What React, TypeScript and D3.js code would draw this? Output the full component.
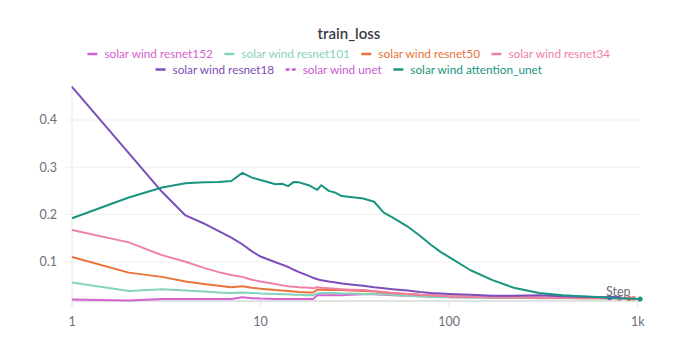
import React from "react";
import * as d3 from "d3";

const steps = [1, 2, 3, 4, 5, 6, 7, 8, 9, 10, 12, 13, 14, 15, 16, 18, 19, 20, 21, 23, 25, 27, 30, 35, 40, 45, 50, 60, 70, 80, 90, 100, 130, 170, 220, 300, 400, 500, 650, 800, 1030];

const seriesNames = [
  "solar wind resnet152",
  "solar wind resnet101",
  "solar wind resnet50",
  "solar wind resnet34",
  "solar wind resnet18",
  "solar wind unet",
  "solar wind attention_unet",
];
const seriesColors = ["#d563cf", "#86d3bc", "#e9733b", "#ef80a7", "#7c4eba", "#c95ad0", "#1a9480"];
const seriesDashed = [false, false, false, false, false, true, false];
const lastSteps = [800, 900, 900, 950, 710, 0, 1030];

const resnet152 = [0.020, 0.018, 0.021, 0.021, 0.021, 0.021, 0.021, 0.025, 0.023, 0.022, 0.021, 0.021, 0.021, 0.021, 0.021, 0.021, 0.021, 0.029, 0.029, 0.029, 0.029, 0.029, 0.030, 0.031, 0.031, 0.030, 0.029, 0.028, 0.027, 0.026, 0.026, 0.025, 0.025, 0.024, 0.024, 0.024, 0.024, 0.024, 0.024, 0.024, 0.023];
const resnet101 = [0.056, 0.038, 0.042, 0.039, 0.037, 0.035, 0.034, 0.035, 0.034, 0.033, 0.032, 0.031, 0.031, 0.030, 0.030, 0.029, 0.029, 0.033, 0.034, 0.034, 0.034, 0.033, 0.033, 0.032, 0.032, 0.031, 0.030, 0.028, 0.027, 0.026, 0.025, 0.025, 0.024, 0.024, 0.024, 0.023, 0.023, 0.023, 0.022, 0.022, 0.022];
const resnet50 = [0.110, 0.077, 0.068, 0.058, 0.053, 0.049, 0.046, 0.048, 0.045, 0.043, 0.040, 0.039, 0.038, 0.037, 0.036, 0.035, 0.035, 0.041, 0.041, 0.040, 0.040, 0.040, 0.039, 0.038, 0.037, 0.035, 0.034, 0.032, 0.030, 0.029, 0.028, 0.027, 0.026, 0.025, 0.025, 0.024, 0.024, 0.023, 0.023, 0.023, 0.022];
const resnet34 = [0.167, 0.141, 0.114, 0.100, 0.087, 0.078, 0.072, 0.068, 0.062, 0.058, 0.053, 0.050, 0.048, 0.047, 0.046, 0.045, 0.044, 0.046, 0.045, 0.044, 0.043, 0.042, 0.041, 0.040, 0.038, 0.036, 0.034, 0.032, 0.030, 0.029, 0.028, 0.027, 0.026, 0.025, 0.025, 0.024, 0.024, 0.024, 0.024, 0.024, 0.023];
const resnet18 = [0.470, 0.330, 0.248, 0.198, 0.181, 0.165, 0.151, 0.137, 0.122, 0.111, 0.099, 0.094, 0.089, 0.083, 0.078, 0.070, 0.066, 0.063, 0.061, 0.058, 0.056, 0.054, 0.052, 0.049, 0.046, 0.044, 0.042, 0.039, 0.036, 0.034, 0.033, 0.032, 0.030, 0.028, 0.028, 0.029, 0.027, 0.026, 0.025, 0.026, 0.024];
const unet: number[] = [];
const attentionUnet = [0.192, 0.236, 0.257, 0.266, 0.268, 0.269, 0.271, 0.288, 0.278, 0.273, 0.264, 0.265, 0.260, 0.269, 0.268, 0.262, 0.257, 0.252, 0.262, 0.250, 0.246, 0.239, 0.237, 0.234, 0.227, 0.204, 0.194, 0.175, 0.155, 0.136, 0.121, 0.110, 0.082, 0.061, 0.045, 0.034, 0.029, 0.027, 0.025, 0.023, 0.021];

const seriesValues = [resnet152, resnet101, resnet50, resnet34, resnet18, unet, attentionUnet];

const yTicks = [0.1, 0.2, 0.3, 0.4];
const xTicks = [1, 10, 100, 1000];
const xTickLabels = ["1", "10", "100", "1k"];

const W = 698;
const H = 356;
const FONT = "Lato, 'Open Sans', sans-serif";

function measure(text: string, size: number): number {
  const c = document.createElement("canvas").getContext("2d");
  if (!c) return text.length * size * 0.5;
  c.font = `${size}px Lato`;
  return c.measureText(text).width;
}

export default function App() {
  const left = 72;
  const right = 637.7;
  const plotRight = 640;
  const x = d3.scaleLog().domain([1, 1000]).range([left, right]);
  const y = d3.scaleLinear().domain([0, 0.4]).range([309, 120]);
  const axisY = 301;
  const plotTop = 84;

  const line = d3
    .line<[number, number]>()
    .x((d) => x(d[0]))
    .y((d) => y(d[1]));

  const legendSize = 11.8;
  const markerW = 10;
  const markerGap = 7;
  const itemGap = 11;
  const rows = [[0, 1, 2, 3], [4, 5, 6]];
  const rowYs = [54, 69.5];

  const legendItems: React.ReactNode[] = [];
  rows.forEach((row, ri) => {
    const widths = row.map((i) => markerW + markerGap + measure(seriesNames[i], legendSize));
    const total = d3.sum(widths) + itemGap * (row.length - 1);
    let cx = W / 2 - total / 2;
    row.forEach((i, k) => {
      const yy = rowYs[ri];
      legendItems.push(
        <g key={`lg${i}`}>
          <line
            x1={cx}
            x2={cx + markerW}
            y1={yy}
            y2={yy}
            stroke={seriesColors[i]}
            strokeWidth={2.5}
            strokeDasharray={seriesDashed[i] ? "4,2" : undefined}
          />
          <text
            x={cx + markerW + markerGap}
            y={yy}
            dy="0.35em"
            fill={seriesColors[i]}
            fontSize={legendSize}
            fontFamily={FONT}
          >
            {seriesNames[i]}
          </text>
        </g>
      );
      cx += widths[k] + itemGap;
    });
  });

  return (
    <svg
      width={W}
      height={H}
      style={{ position: "absolute", left: 0, top: 0, background: "#fff" }}
      fontFamily={FONT}
    >
      <text x={349} y={39} textAnchor="middle" fontSize={15} fontWeight={600} fill="#3a3a42">
        train_loss
      </text>
      {legendItems}

      {yTicks.map((t) => (
        <g key={`yt${t}`}>
          <line x1={left - 6} x2={plotRight} y1={y(t)} y2={y(t)} stroke="#efefef" strokeWidth={1} />
          <text x={57} y={y(t)} dy="0.35em" textAnchor="end" fontSize={12.5} fill="#6e6e78">
            {t.toFixed(1)}
          </text>
        </g>
      ))}
      <line x1={left} x2={left} y1={plotTop} y2={axisY + 5} stroke="#e6e6e6" strokeWidth={1} />
      <line x1={left} x2={plotRight} y1={axisY} y2={axisY} stroke="#e2e2e2" strokeWidth={2} />
      {xTicks.map((t, i) => (
        <g key={`xt${t}`}>
          <line x1={x(t)} x2={x(t)} y1={axisY} y2={axisY + 6} stroke="#e2e2e2" strokeWidth={1} />
          <text x={x(t)} y={326} textAnchor="middle" fontSize={12.5} fill="#6e6e78">
            {xTickLabels[i]}
          </text>
        </g>
      ))}

      {seriesValues.map((vals, si) => {
        if (!vals.length) return null;
        const pts: [number, number][] = vals.map((v, i) => [
          i === vals.length - 1 ? lastSteps[si] : steps[i],
          v,
        ]);
        const lp = pts[pts.length - 1];
        return (
          <g key={`s${si}`}>
            <path
              d={line(pts) || ""}
              fill="none"
              stroke={seriesColors[si]}
              strokeWidth={2}
              strokeLinejoin="round"
              strokeDasharray={seriesDashed[si] ? "4,3" : undefined}
            />
            <circle cx={x(lp[0])} cy={y(lp[1])} r={2.5} fill={seriesColors[si]} />
          </g>
        );
      })}
      <text x={606} y={292} dy="0.35em" fontSize={12.5} fill="#6e6e78">
        Step
      </text>
    </svg>
  );
}
